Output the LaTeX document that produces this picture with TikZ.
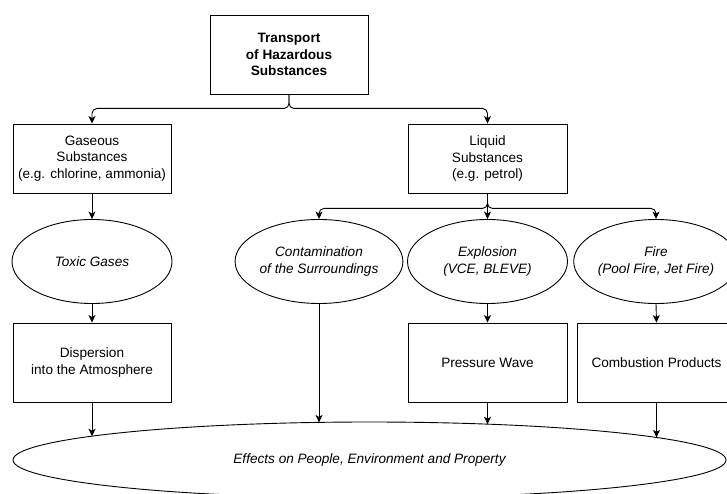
\documentclass[tikz,border=0pt]{standalone}
\usepackage{fontspec}
\setmainfont{Liberation Sans}
\usetikzlibrary{shapes.geometric,arrows.meta,calc}
\begin{document}
\begin{tikzpicture}[x=1pt,y=-1pt,
  every node/.style={font=\fontsize{13.6}{16.5}\selectfont, align=center, inner sep=0pt},
  boxnode/.style={draw, rectangle, line width=0.9pt, minimum width=158pt, minimum height=79pt},
  ellnode/.style={draw, ellipse, line width=0.9pt, minimum width=160pt, minimum height=84pt, font=\fontsize{13.6}{16.5}\selectfont\itshape},
  arr/.style={-{Stealth[length=7.5pt,width=7pt,inset=2pt]}, line width=0.9pt},
  brace/.style={arr, rounded corners=5pt}]
\useasboundingbox (0,0) rectangle (727,494);
\clip (0,0) rectangle (727,494);
\node[boxnode, font=\fontsize{13.6}{16.5}\selectfont\bfseries] (top) at (289,54.5) {Transport\\of Hazardous\\Substances};
\node[boxnode, minimum height=69pt] (gas) at (92,158.5) {Gaseous\\Substances\\(e.g. chlorine, ammonia)};
\node[boxnode, minimum width=159pt, minimum height=69pt] (liq) at (487.5,158.5) {Liquid\\Substances\\(e.g. petrol)};
\node[ellnode] (toxic) at (92,261.5) {Toxic Gases};
\node[ellnode] (cont) at (319,261.5) {Contamination\\of the Surroundings};
\node[ellnode] (expl) at (487.5,261.5) {Explosion\\(VCE, BLEVE)};
\node[ellnode] (fire) at (656,261.5) {Fire\\(Pool Fire, Jet Fire)};
\node[boxnode] (disp) at (92,362.5) {Dispersion\\into the Atmosphere};
\node[boxnode, minimum width=159pt] (press) at (487.5,362.5) {Pressure Wave};
\node[boxnode, minimum width=159pt] (comb) at (656.5,362.5) {Combustion Products};
\node[draw, ellipse, line width=0.9pt, minimum width=713pt, minimum height=76pt, font=\fontsize{13.6}{16.5}\selectfont\itshape] (eff) at (369.5,460) {Effects on People, Environment and Property};
% points on the border of the large ellipse
\coordinate (e1) at ($(eff.center)+(-277.5,-23.8)$);
\coordinate (e2) at ($(eff.center)+(-50.5,-37.6)$);
\coordinate (e3) at ($(eff.center)+(118,-35.8)$);
\coordinate (e4) at ($(eff.center)+(287,-22.6)$);
% connectors
\draw[brace] (top.south) -- ++(0,14) -| (gas.north);
\draw[brace] (top.south) -- ++(0,14) -| (liq.north);
\draw[brace] (liq.south) -- ++(0,15) -| (cont.north);
\draw[arr] (liq.south) -- (expl.north);
\draw[brace] (liq.south) -- ++(0,15) -| (fire.north);
\draw[arr] (gas.south) -- (toxic.north);
\draw[arr] (toxic.south) -- (disp.north);
\draw[arr] (expl.south) -- (press.north);
\draw[arr] (fire.south) -- (comb.north);
\draw[arr] (disp.south) -- (e1);
\draw[arr] (cont.south) -- (e2);
\draw[arr] (press.south) -- (e3);
\draw[arr] (comb.south) -- (e4);
\end{tikzpicture}
\end{document}
